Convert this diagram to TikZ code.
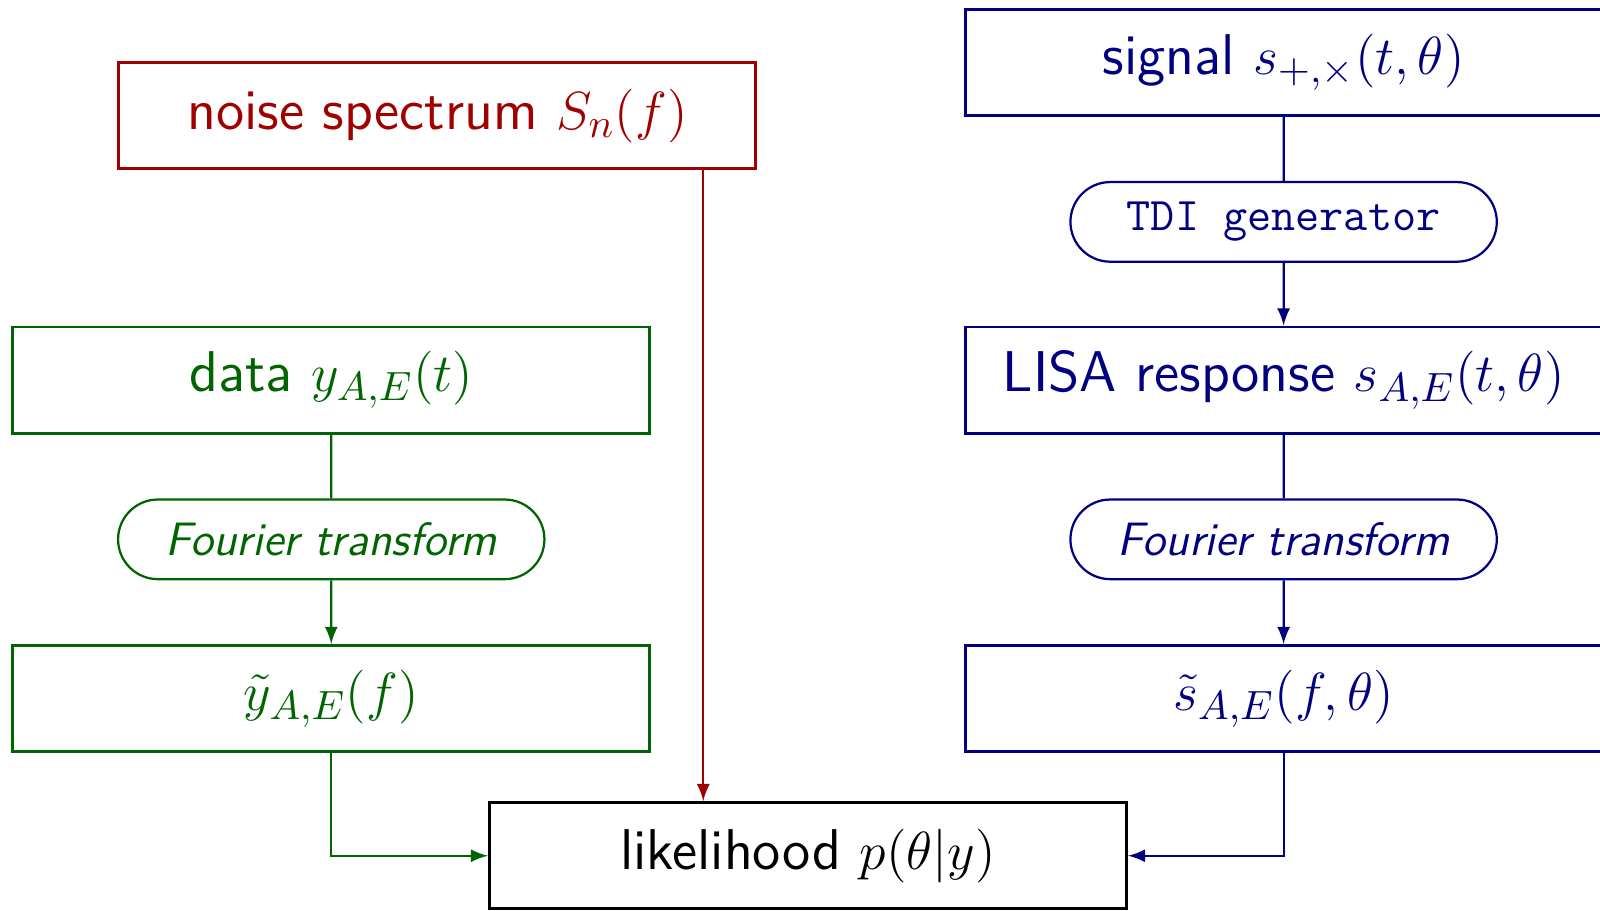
\documentclass[tikz,border=0pt]{standalone}
\usetikzlibrary{shapes.misc,arrows}
\definecolor{noisered}{RGB}{160,0,0}
\definecolor{datagreen}{RGB}{0,100,0}
\definecolor{sigblue}{RGB}{0,0,128}
\newcommand{\boxsize}{\fontsize{15.4}{18}\selectfont}
\newcommand{\opsize}{\fontsize{12.55}{15}\selectfont}
\begin{document}
\begin{tikzpicture}[
    box/.style={draw,thick,minimum width=6cm,minimum height=1cm,font=\sffamily\boxsize},
    op/.style={draw,semithick,rounded rectangle,minimum width=4.25cm,minimum height=0.75cm},
    link/.style={semithick},
    >=latex]
    \useasboundingbox (0,0) rectangle (15.07,-8.58);
    % noise
    \node[box,noisered] (noise) at (4.12,-1.09) {noise spectrum $S_n(f)$};
    % data side
    \node[box,datagreen] (data) at (3.12,-3.58) {data $y_{A,E}(t)$};
    \node[op,datagreen,font=\sffamily\itshape\opsize] (ftdata) at (3.12,-5.08) {Fourier transform};
    \node[box,datagreen] (ydft) at (3.12,-6.58) {$\tilde{y}_{A,E}(f)$};
    % signal side
    \node[box,sigblue] (signal) at (12.09,-0.59) {signal $s_{+,\times}(t,\theta)$};
    \node[op,sigblue,font=\ttfamily\opsize] (tdi) at (12.09,-2.09) {TDI generator};
    \node[box,sigblue] (lisa) at (12.09,-3.58) {LISA response $s_{A,E}(t,\theta)$};
    \node[op,sigblue,font=\sffamily\itshape\opsize] (ftsig) at (12.09,-5.08) {Fourier transform};
    \node[box,sigblue] (sdft) at (12.09,-6.58) {$\tilde{s}_{A,E}(f,\theta)$};
    % likelihood
    \node[box] (lik) at (7.61,-8.06) {likelihood $p(\theta|y)$};
    \draw[link,datagreen] (data) -- (ftdata);
    \draw[link,datagreen,->] (ftdata) -- (ydft);
    \draw[link,datagreen,->] (ydft) |- (lik);
    \draw[link,sigblue] (signal) -- (tdi);
    \draw[link,sigblue,->] (tdi) -- (lisa);
    \draw[link,sigblue] (lisa) -- (ftsig);
    \draw[link,sigblue,->] (ftsig) -- (sdft);
    \draw[link,sigblue,->] (sdft) |- (lik);
    \draw[link,noisered,->] ([xshift=-5.1mm]noise.south east) -- ([xshift=-5.1mm]noise.south east |- lik.north);
\end{tikzpicture}
\end{document}
